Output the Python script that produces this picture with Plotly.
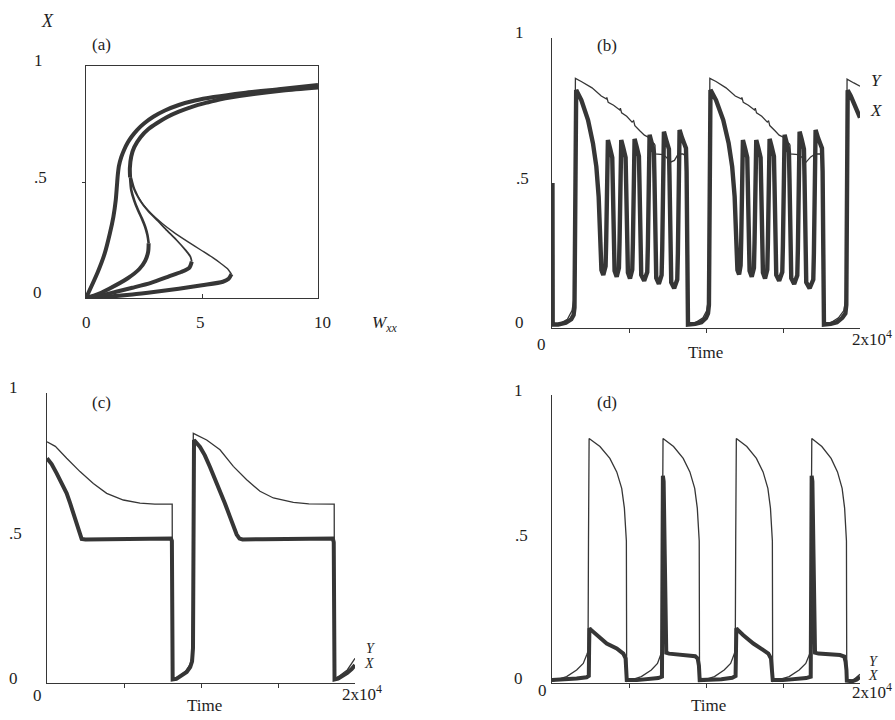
import plotly.graph_objects as go

# ---------------- Panel (a): X versus Wxx (four bifurcation curves) ----------------
a_A_w = [0, 0.5, 0.8, 1.03, 1.18, 1.28, 1.33, 1.37, 1.42, 1.52, 1.64, 1.8, 1.98, 2.2, 2.5, 2.9, 3.4, 4.0, 4.7, 5.5, 6.8, 8.3, 10.0]
a_A_x = [0, 0.11, 0.19, 0.279, 0.35, 0.42, 0.48, 0.53, 0.57, 0.607, 0.638, 0.67, 0.697, 0.724, 0.752, 0.781, 0.808, 0.832, 0.851, 0.866, 0.884, 0.9, 0.918]
a_up_w = [1.9, 1.89, 1.95, 2.08, 2.35, 2.68, 3.05, 3.5, 4.0, 4.6, 5.2, 5.8, 7.0, 8.5, 10.0]
a_up_x = [0.52, 0.56, 0.61, 0.65, 0.693, 0.727, 0.753, 0.78, 0.803, 0.825, 0.842, 0.857, 0.876, 0.894, 0.907]
a_Bm_w = [1.9, 1.95, 2.08, 2.24, 2.42, 2.55, 2.65, 2.7]
a_Bm_x = [0.52, 0.466, 0.42, 0.379, 0.34, 0.307, 0.27, 0.236]
a_Bl_w = [2.7, 2.68, 2.55, 2.3, 1.8, 1.0, 0.4, 0]
a_Bl_x = [0.236, 0.2, 0.16, 0.125, 0.085, 0.04, 0.012, 0]
a_Cm_w = [1.93, 2.04, 2.3, 2.7, 3.1, 3.5, 3.9, 4.3, 4.5, 4.56]
a_Cm_x = [0.52, 0.475, 0.425, 0.372, 0.332, 0.29, 0.25, 0.205, 0.178, 0.157]
a_Cl_w = [4.56, 4.45, 4.1, 3.6, 2.8, 2.0, 1.3, 0.6, 0]
a_Cl_x = [0.157, 0.13, 0.112, 0.094, 0.065, 0.044, 0.027, 0.01, 0]
a_Dm_w = [1.96, 2.1, 2.4, 2.8, 3.3, 3.8, 4.4, 4.95, 5.45, 5.8, 6.1, 6.27]
a_Dm_x = [0.52, 0.47, 0.412, 0.365, 0.32, 0.282, 0.242, 0.207, 0.175, 0.15, 0.126, 0.103]
a_Dl_w = [6.27, 6.15, 5.9, 5.0, 4.0, 3.0, 2.0, 1.0, 0]
a_Dl_x = [0.103, 0.083, 0.07, 0.055, 0.04, 0.027, 0.015, 0.006, 0]

# ---------------- Panel (b): X and Y versus time ----------------
b_X_t = [30, 45, 400, 900, 1250, 1400, 1460, 1490, 1520, 1570, 1905, 2340, 2660, 2880, 3030, 3090, 3140, 3210, 3330,
         3480, 3520, 3550, 3580, 3630, 3770, 3913, 3948, 3983, 4018, 4063, 4200,
         4346, 4386, 4416, 4446, 4496, 4636, 4779, 4814, 4849, 4884, 4929, 5065,
         5212, 5252, 5282, 5312, 5362, 5502, 5645, 5680, 5715, 5750, 5795, 5985,
         6186, 6226, 6256, 6286, 6336, 6476, 6619, 6654, 6689, 6724, 6769, 6938,
         7117, 7157, 7187, 7217, 7267, 7407, 7593, 7628, 7663, 7698, 7743, 7933,
         8134, 8174, 8204, 8234, 8284, 8450, 8700, 8740, 8775, 8800, 8830,
         9300, 9700, 10000, 10130, 10190, 10215, 10240, 10290,
         10650, 11120, 11470, 11700, 11860, 11930, 11980, 12040, 12150,
         12247, 12287, 12317, 12347, 12397, 12537, 12680, 12715, 12750, 12785, 12830, 12970,
         13113, 13153, 13183, 13213, 13263, 13403, 13546, 13581, 13616, 13651, 13696, 13833,
         13979, 14019, 14049, 14079, 14129, 14269, 14412, 14447, 14482, 14517, 14562, 14750,
         14953, 14993, 15023, 15053, 15103, 15243, 15386, 15421, 15456, 15491, 15536, 15725,
         15927, 15967, 15997, 16027, 16077, 16217, 16360, 16395, 16430, 16465, 16510, 16730,
         16966, 17006, 17036, 17066, 17116, 17280, 17530, 17572, 17605, 17630, 17660,
         18100, 18500, 18850, 19050, 19110, 19136, 19160, 19200, 19400, 19650, 19850, 20000]
b_X_v = [0.5, 0.012, 0.012, 0.018, 0.03, 0.045, 0.07, 0.4, 0.78, 0.821, 0.786, 0.717, 0.637, 0.556, 0.453, 0.33, 0.24, 0.2, 0.183,
         0.213, 0.303, 0.42, 0.59, 0.648, 0.62, 0.588, 0.498, 0.4, 0.257, 0.197, 0.177,
         0.207, 0.297, 0.42, 0.59, 0.648, 0.62, 0.588, 0.498, 0.4, 0.251, 0.191, 0.171,
         0.201, 0.291, 0.42, 0.594, 0.652, 0.624, 0.592, 0.502, 0.4, 0.243, 0.183, 0.163,
         0.193, 0.283, 0.42, 0.606, 0.666, 0.638, 0.606, 0.516, 0.4, 0.232, 0.172, 0.152,
         0.182, 0.272, 0.42, 0.617, 0.677, 0.65, 0.617, 0.527, 0.4, 0.217, 0.157, 0.137,
         0.167, 0.257, 0.42, 0.623, 0.683, 0.655, 0.62, 0.54, 0.3, 0.05, 0.012,
         0.014, 0.02, 0.035, 0.05, 0.08, 0.4, 0.78, 0.821,
         0.786, 0.717, 0.637, 0.556, 0.453, 0.33, 0.24, 0.2, 0.185,
         0.215, 0.305, 0.42, 0.59, 0.648, 0.62, 0.588, 0.498, 0.4, 0.257, 0.197, 0.177,
         0.207, 0.297, 0.42, 0.59, 0.648, 0.62, 0.588, 0.498, 0.4, 0.251, 0.191, 0.171,
         0.201, 0.291, 0.42, 0.594, 0.652, 0.624, 0.592, 0.502, 0.4, 0.243, 0.183, 0.163,
         0.193, 0.283, 0.42, 0.606, 0.666, 0.638, 0.606, 0.516, 0.4, 0.232, 0.172, 0.152,
         0.182, 0.272, 0.42, 0.617, 0.677, 0.65, 0.617, 0.527, 0.4, 0.217, 0.157, 0.137,
         0.167, 0.257, 0.42, 0.623, 0.683, 0.655, 0.62, 0.54, 0.3, 0.05, 0.012,
         0.014, 0.02, 0.035, 0.05, 0.08, 0.4, 0.78, 0.82, 0.8, 0.77, 0.745, 0.725]
b_Y_t = [0, 500, 1000, 1300, 1420, 1470, 1495, 1520, 1900, 2600, 3200, 3520, 3560, 3650, 4000, 4400, 4440, 4520,
         4850, 5200, 5300, 5380, 5700, 6000, 6250, 6320, 6650, 6690, 6700, 7220, 7400, 7700, 7950, 8200, 8500, 8780, 8795,
         9300, 9800, 10050, 10150, 10200, 10225, 10250, 10650, 11300, 11900, 12290, 12330, 12420, 12750, 13150, 13200, 13280,
         13620, 13980, 14060, 14140, 14480, 14750, 15020, 15090, 15420, 15456, 15470, 15990, 16200, 16500, 16800, 17100, 17400, 17610, 17625,
         18100, 18600, 18950, 19080, 19120, 19140, 19160, 19600, 20000]
b_Y_v = [0.008, 0.015, 0.03, 0.06, 0.1, 0.2, 0.6, 0.861, 0.85, 0.828, 0.8, 0.79, 0.795, 0.778, 0.768, 0.752, 0.758, 0.742,
         0.73, 0.71, 0.715, 0.698, 0.68, 0.665, 0.658, 0.648, 0.635, 0.63, 0.6, 0.598, 0.59, 0.572, 0.578, 0.6, 0.6, 0.59, 0.015,
         0.018, 0.035, 0.06, 0.1, 0.2, 0.6, 0.861, 0.85, 0.828, 0.8, 0.79, 0.795, 0.778, 0.768, 0.752, 0.758, 0.742,
         0.73, 0.71, 0.715, 0.698, 0.68, 0.665, 0.658, 0.648, 0.635, 0.63, 0.6, 0.598, 0.59, 0.572, 0.59, 0.6, 0.6, 0.59, 0.015,
         0.018, 0.035, 0.06, 0.1, 0.2, 0.6, 0.858, 0.845, 0.834]

# ---------------- Panel (c) ----------------
c_X_t = [0, 300, 628, 1000, 1277, 1500, 1710, 1900, 2035, 2150, 2250, 2500, 4000, 6000, 7800, 8050, 8110, 8140, 8160, 8400,
         8637, 9070, 9300, 9420, 9480, 9510, 9546, 9935, 10250, 10584, 10900, 11234, 11550, 11883, 12100, 12316, 12500, 12700,
         14000, 16000, 18300, 18560, 18620, 18650, 18670, 18900, 19243, 19500, 19784, 20000]
c_X_v = [0.775, 0.755, 0.723, 0.685, 0.654, 0.62, 0.585, 0.55, 0.527, 0.505, 0.497, 0.495, 0.496, 0.497, 0.498, 0.498, 0.49, 0.3, 0.012, 0.014,
         0.022, 0.038, 0.055, 0.075, 0.12, 0.5, 0.838, 0.814, 0.785, 0.745, 0.705, 0.665, 0.62, 0.573, 0.54, 0.512, 0.498, 0.495,
         0.496, 0.497, 0.498, 0.498, 0.485, 0.3, 0.012, 0.015, 0.025, 0.035, 0.048, 0.062]
c_Y_t = [0, 541, 1277, 2143, 3009, 3875, 4957, 6039, 7000, 8130, 8140, 8150, 8500, 9000, 9300, 9420, 9470, 9500,
         10368, 11234, 12100, 12966, 13832, 14698, 15997, 17000, 18650, 18660, 18670, 19000, 19500, 20000]
c_Y_v = [0.832, 0.816, 0.775, 0.729, 0.688, 0.654, 0.631, 0.62, 0.617, 0.617, 0.3, 0.015, 0.02, 0.04, 0.065, 0.09, 0.3, 0.861,
         0.838, 0.804, 0.747, 0.701, 0.661, 0.638, 0.623, 0.618, 0.617, 0.3, 0.015, 0.025, 0.045, 0.085]

# ---------------- Panel (d) ----------------
d_X_t = [0, 800, 1600, 2250, 2390, 2410, 2430, 2500, 2900, 3550, 4200, 4630, 4780, 4830, 4855,
         5500, 6300, 6900, 7140, 7170, 7200, 7250, 7320, 7370, 7420, 7600, 8200, 8800, 9300, 9460, 9540, 9590,
         10300, 11000, 11700, 11920, 11950, 11970, 12030, 12425, 13075, 13724, 14049, 14220, 14290, 14335,
         15000, 15800, 16500, 16800, 16830, 16860, 16910, 16980, 17030, 17080, 17300, 18000, 18700, 18980, 19060, 19120, 19145, 19500, 19800, 20000]
d_X_v = [0.01, 0.012, 0.016, 0.02, 0.025, 0.12, 0.19, 0.186, 0.166, 0.137, 0.12, 0.102, 0.085, 0.055, 0.01,
         0.01, 0.013, 0.017, 0.022, 0.4, 0.72, 0.7, 0.45, 0.15, 0.105, 0.102, 0.1, 0.097, 0.093, 0.085, 0.06, 0.01,
         0.01, 0.013, 0.018, 0.024, 0.12, 0.19, 0.186, 0.166, 0.137, 0.114, 0.102, 0.085, 0.055, 0.01,
         0.01, 0.013, 0.017, 0.022, 0.4, 0.72, 0.7, 0.45, 0.15, 0.105, 0.102, 0.1, 0.097, 0.092, 0.075, 0.045, 0.008, 0.006, 0.012, 0.022]
d_Y_t = [0, 950, 1600, 2030, 2250, 2340, 2370, 2410, 3114, 3758, 4204, 4527, 4700, 4787, 4829, 4840, 4850,
         5800, 6450, 6850, 7060, 7140, 7170, 7210, 7893, 8520, 8953, 9267, 9435, 9520, 9560, 9570, 9580,
         10550, 11180, 11600, 11820, 11900, 11930, 11970, 12650, 13274, 13706, 14018, 14186, 14270, 14310, 14320, 14330,
         15400, 16050, 16480, 16700, 16800, 16830, 16870, 17523, 18124, 18539, 18840, 19001, 19082, 19120, 19130, 19140, 19600, 20000]
d_Y_v = [0.006, 0.022, 0.045, 0.068, 0.097, 0.11, 0.5, 0.849, 0.821, 0.78, 0.733, 0.676, 0.607, 0.538, 0.493, 0.25, 0.006,
         0.022, 0.045, 0.068, 0.097, 0.11, 0.5, 0.849, 0.821, 0.78, 0.733, 0.676, 0.607, 0.538, 0.493, 0.25, 0.006,
         0.022, 0.045, 0.068, 0.097, 0.11, 0.5, 0.849, 0.821, 0.78, 0.733, 0.676, 0.607, 0.538, 0.493, 0.25, 0.006,
         0.022, 0.045, 0.068, 0.097, 0.11, 0.5, 0.849, 0.821, 0.78, 0.733, 0.676, 0.607, 0.538, 0.493, 0.25, 0.006, 0.012, 0.03]

time_ticks = [5000, 10000, 15000]

# ---------------- figure ----------------
W, H = 895, 720
INK = '#363636'
TXT = '#1e1e1e'
FONT = 'Liberation Serif, Times New Roman, serif'
THICK, THIN = 4.0, 1.3

fig = go.Figure()


def add(x, y, w, ax, smooth=False):
    fig.add_trace(go.Scatter(
        x=x, y=y, mode='lines',
        line=dict(color=INK, width=w, shape='spline' if smooth else 'linear', smoothing=0.7),
        xaxis='x' + ax, yaxis='y' + ax, hoverinfo='skip', showlegend=False))


# panel a
add(a_Dm_w, a_Dm_x, 1.4, '', True)
add(a_Cm_w, a_Cm_x, 1.8, '', True)
add(a_Bm_w, a_Bm_x, 2.6, '', True)
add(a_Dl_w, a_Dl_x, THICK, '', True)
add(a_Cl_w, a_Cl_x, THICK, '', True)
add(a_Bl_w, a_Bl_x, THICK, '', True)
add(a_up_w, a_up_x, THICK, '', True)
add(a_A_w, a_A_x, THICK, '', True)
# panel b
add(b_X_t, b_X_v, 4.4, '2')
add(b_Y_t, b_Y_v, THIN, '2')
# panel c
add(c_X_t, c_X_v, THICK, '3')
add(c_Y_t, c_Y_v, THIN, '3')
# panel d
add(d_X_t, d_X_v, THICK, '4')
add(d_Y_t, d_Y_v, THIN, '4')


def dx(a, b):
    return [a / W, b / W]


def dy(top, bottom):
    return [1 - bottom / H, 1 - top / H]


base = dict(showgrid=False, zeroline=False, showline=True, linecolor=INK, linewidth=1.3,
            showticklabels=False, fixedrange=True, tickcolor=INK, tickwidth=1)

layout = dict(
    width=W, height=H, autosize=False,
    margin=dict(l=0, r=0, t=0, b=0),
    paper_bgcolor='white', plot_bgcolor='white',
    xaxis=dict(base, domain=dx(86, 318), range=[0, 10], anchor='y', mirror=True,
               ticks='inside', tickvals=[5], ticklen=4),
    yaxis=dict(base, domain=dy(66, 298), range=[0, 1], anchor='x', mirror=True,
               ticks='outside', tickvals=[0.5], ticklen=3),
    xaxis2=dict(base, domain=dx(552, 860), range=[0, 20000], anchor='y2',
                ticks='outside', tickvals=time_ticks, ticklen=4),
    yaxis2=dict(base, domain=dy(38, 328), range=[0, 1], anchor='x2', ticks=''),
    xaxis3=dict(base, domain=dx(47, 355), range=[0, 20000], anchor='y3',
                ticks='outside', tickvals=time_ticks, ticklen=4),
    yaxis3=dict(base, domain=dy(393, 683), range=[0, 1], anchor='x3', ticks=''),
    xaxis4=dict(base, domain=dx(552, 860), range=[0, 20000], anchor='y4',
                ticks='outside', tickvals=time_ticks, ticklen=4),
    yaxis4=dict(base, domain=dy(395, 683), range=[0, 1], anchor='x4', ticks=''),
)

# (text, x px, y px, size, x-anchor)
labels = [
    # panel a
    ('<i>X</i>', 47, 21, 18, 'center'), ('(a)', 101, 44, 17, 'center'),
    ('1', 38, 60, 17, 'center'), ('.5', 40, 177, 17, 'center'), ('0', 37, 292, 17, 'center'),
    ('0', 86, 322, 17, 'center'), ('5', 200, 322, 17, 'center'), ('10', 322, 322, 17, 'center'),
    ('<i>W<sub>xx</sub></i>', 384, 324, 17, 'center'),
    # panel b
    ('(b)', 607, 45, 17, 'center'), ('1', 519, 33, 17, 'center'), ('.5', 522, 178, 17, 'center'),
    ('0', 519, 322, 17, 'center'),
    ('0', 541, 344, 17, 'center'), ('Time', 705, 352, 17, 'center'), ('2x10<sup>4</sup>', 893, 338, 17, 'right'),
    ('<i>Y</i>', 876, 80, 17, 'center'), ('<i>X</i>', 876, 110, 17, 'center'),
    # panel c
    ('(c)', 101, 402, 17, 'center'), ('1', 13, 387, 17, 'center'), ('.5', 15, 533, 17, 'center'),
    ('0', 13, 678, 17, 'center'),
    ('0', 37, 695, 17, 'center'), ('Time', 204, 705, 17, 'center'), ('2x10<sup>4</sup>', 362, 693, 17, 'center'),
    ('<i>Y</i>', 371, 648, 14, 'center'), ('<i>X</i>', 369, 663, 14, 'center'),
    # panel d
    ('(d)', 607, 402, 17, 'center'), ('1', 518, 390, 17, 'center'), ('.5', 521, 535, 17, 'center'),
    ('0', 518, 678, 17, 'center'),
    ('0', 542, 690, 17, 'center'), ('Time', 708, 705, 17, 'center'), ('2x10<sup>4</sup>', 893, 691, 17, 'right'),
    ('<i>Y</i>', 874, 661, 14, 'center'), ('<i>X</i>', 873, 675, 14, 'center'),
]
layout['annotations'] = [
    dict(text=t, x=px / W, y=1 - py / H, xref='paper', yref='paper', showarrow=False,
         xanchor=xa, yanchor='middle', borderpad=0,
         font=dict(family=FONT, size=s, color=TXT))
    for (t, px, py, s, xa) in labels
]

fig.update_layout(**layout)
fig.write_html(
    'out.html',
    config={'displayModeBar': False, 'staticPlot': True},
    post_script="document.body.style.margin='0';document.body.style.overflow='hidden';"
                "document.documentElement.style.overflow='hidden';",
)
